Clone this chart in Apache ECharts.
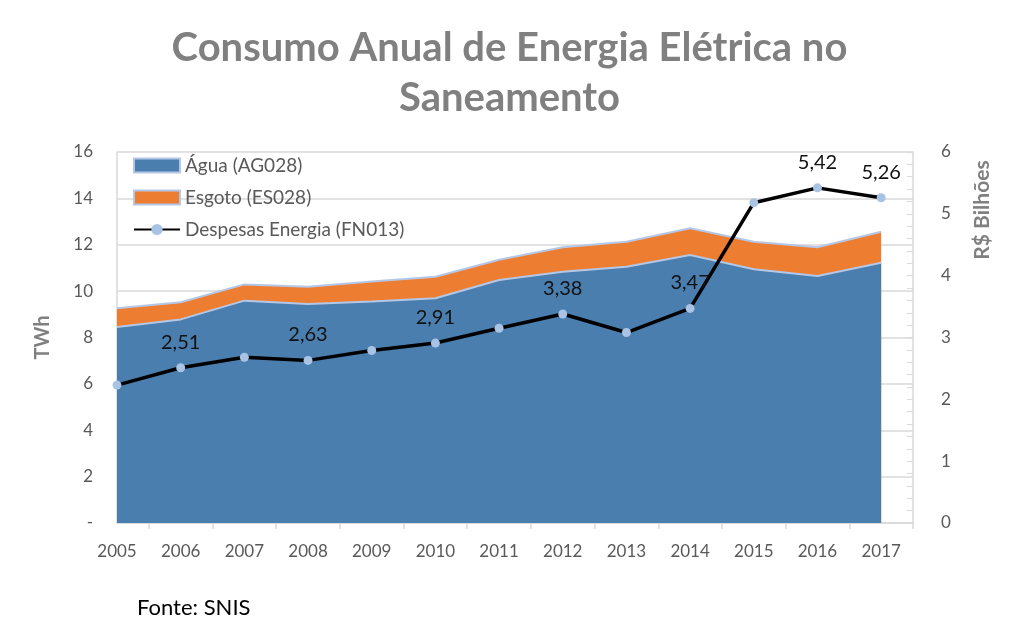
<!DOCTYPE html>
<html>
<head>
<meta charset="utf-8">
<script src="https://cdn.jsdelivr.net/npm/echarts@6/dist/echarts.min.js"></script>
<style>
  html, body { margin: 0; padding: 0; background: #fff; }
  #chart { width: 1019px; height: 632px; }
</style>
</head>
<body>
<div id="chart"></div>
<script>
// anos e valores
const years = [2005, 2006, 2007, 2008, 2009, 2010, 2011, 2012, 2013, 2014, 2015, 2016, 2017];
const agua = [8.45, 8.78, 9.59, 9.45, 9.55, 9.69, 10.48, 10.84, 11.05, 11.56, 10.94, 10.65, 11.22]; // TWh
const esgoto = [0.81, 0.74, 0.70, 0.74, 0.86, 0.93, 0.87, 1.05, 1.08, 1.15, 1.19, 1.24, 1.34]; // TWh
const despesas = [2.23, 2.51, 2.68, 2.63, 2.79, 2.91, 3.15, 3.38, 3.08, 3.47, 5.18, 5.42, 5.26]; // R$ bilhões
const labeledYears = [2006, 2008, 2010, 2012, 2014, 2016, 2017];

const leftTicks = [0, 2, 4, 6, 8, 10, 12, 14, 16];
const rightTicks = [0, 1, 2, 3, 4, 5, 6];

function pairs(vals) {
  return years.map((y, i) => [y, vals[i]]);
}

// eixo x é de valor, então o empilhamento é feito à mão: esgoto fica por cima da água
const aguaMaisEsgoto = agua.map((v, i) => +(v + esgoto[i]).toFixed(2));

const gray = '#595959';
const gridGray = '#d9d9d9';

const chart = echarts.init(document.getElementById('chart'));

const option = {
  animation: false,
  textStyle: { fontFamily: 'Lato, "Open Sans", sans-serif' },
  title: {
    text: 'Consumo Anual de Energia Elétrica no\nSaneamento',
    left: 'center',
    top: 18,
    textStyle: {
      fontFamily: 'Lato, sans-serif',
      fontSize: 40,
      fontWeight: 'bold',
      color: '#808080',
      lineHeight: 50
    }
  },
  grid: { left: 117, right: 106, top: 152, bottom: 109 },
  legend: {
    orient: 'vertical',
    left: 128,
    top: 151,
    itemGap: 13,
    itemWidth: 46,
    itemHeight: 14,
    textStyle: { color: gray, fontSize: 19 },
    data: [
      { name: 'Água (AG028)', icon: 'rect' },
      { name: 'Esgoto (ES028)', icon: 'rect' },
      { name: 'Despesas Energia (FN013)' }
    ]
  },
  xAxis: {
    type: 'value',
    min: years[0],
    max: years[years.length - 1] + 0.5,
    interval: 1,
    axisLine: { show: true, lineStyle: { color: gridGray, width: 1.5 } },
    // marcas entre os anos, como no gráfico original
    axisTick: {
      show: true,
      length: 6,
      customValues: years.map(y => y + 0.5),
      lineStyle: { color: gridGray, width: 1.5 }
    },
    splitLine: { show: false },
    axisLabel: {
      color: gray,
      fontSize: 17,
      margin: 20,
      customValues: years,
      formatter: v => String(v)
    }
  },
  yAxis: [
    {
      type: 'value',
      min: leftTicks[0],
      max: leftTicks[leftTicks.length - 1],
      interval: 2,
      name: 'TWh',
      nameLocation: 'middle',
      nameGap: 64,
      nameTextStyle: { color: '#808080', fontSize: 20, fontWeight: 'bold' },
      axisLine: { show: true, lineStyle: { color: gridGray, width: 1.5 } },
      axisTick: { show: false },
      splitLine: { lineStyle: { color: gridGray, width: 1.5 } },
      axisLabel: {
        color: gray,
        fontSize: 17,
        margin: 24,
        formatter: v => (v === 0 ? '-' : String(v))
      }
    },
    {
      type: 'value',
      min: rightTicks[0],
      max: rightTicks[rightTicks.length - 1],
      interval: 1,
      position: 'right',
      axisLine: { show: true, lineStyle: { color: gridGray, width: 1.5 } },
      axisTick: { show: true, inside: true, length: 6, lineStyle: { color: gridGray } },
      minorTick: { show: true, splitNumber: 5, length: 6, lineStyle: { color: gridGray } },
      splitLine: { show: false },
      axisLabel: { color: gray, fontSize: 17, margin: 28 }
    }
  ],
  graphic: [
    {
      type: 'text',
      x: 982,
      y: 210,
      rotation: Math.PI / 2,
      style: {
        text: 'R$ Bilhões',
        fill: '#808080',
        font: 'bold 21px Lato, sans-serif',
        textAlign: 'center',
        textVerticalAlign: 'middle'
      }
    },
    {
      type: 'text',
      left: 137,
      top: 597,
      style: {
        text: 'Fonte: SNIS',
        fill: '#000',
        font: '22px Lato, sans-serif'
      }
    }
  ],
  series: [
    {
      name: 'Esgoto (ES028)',
      type: 'line',
      yAxisIndex: 0,
      z: 2,
      showSymbol: false,
      symbol: 'none',
      itemStyle: { color: '#ed7d31', borderColor: '#b4c7e7', borderWidth: 1 },
      lineStyle: { color: '#b4c7e7', width: 2 },
      areaStyle: { color: '#ed7d31', opacity: 1 },
      data: pairs(aguaMaisEsgoto)
    },
    {
      name: 'Água (AG028)',
      type: 'line',
      yAxisIndex: 0,
      z: 3,
      showSymbol: false,
      symbol: 'none',
      itemStyle: { color: '#4a7eae', borderColor: '#b4c7e7', borderWidth: 1 },
      lineStyle: { color: '#b4c7e7', width: 2 },
      areaStyle: { color: '#4a7eae', opacity: 1 },
      data: pairs(agua)
    },
    {
      name: 'Despesas Energia (FN013)',
      type: 'line',
      yAxisIndex: 1,
      z: 5,
      symbol: 'circle',
      symbolSize: 9,
      itemStyle: { color: '#a9c3e4' },
      lineStyle: { color: '#000', width: 3.5 },
      label: {
        show: true,
        position: 'top',
        distance: 11,
        color: '#111',
        fontSize: 20,
        formatter: p => (labeledYears.includes(p.value[0]) ? p.value[1].toFixed(2).replace('.', ',') : '')
      },
      data: pairs(despesas)
    }
  ]
};

chart.setOption(option);
</script>
</body>
</html>
